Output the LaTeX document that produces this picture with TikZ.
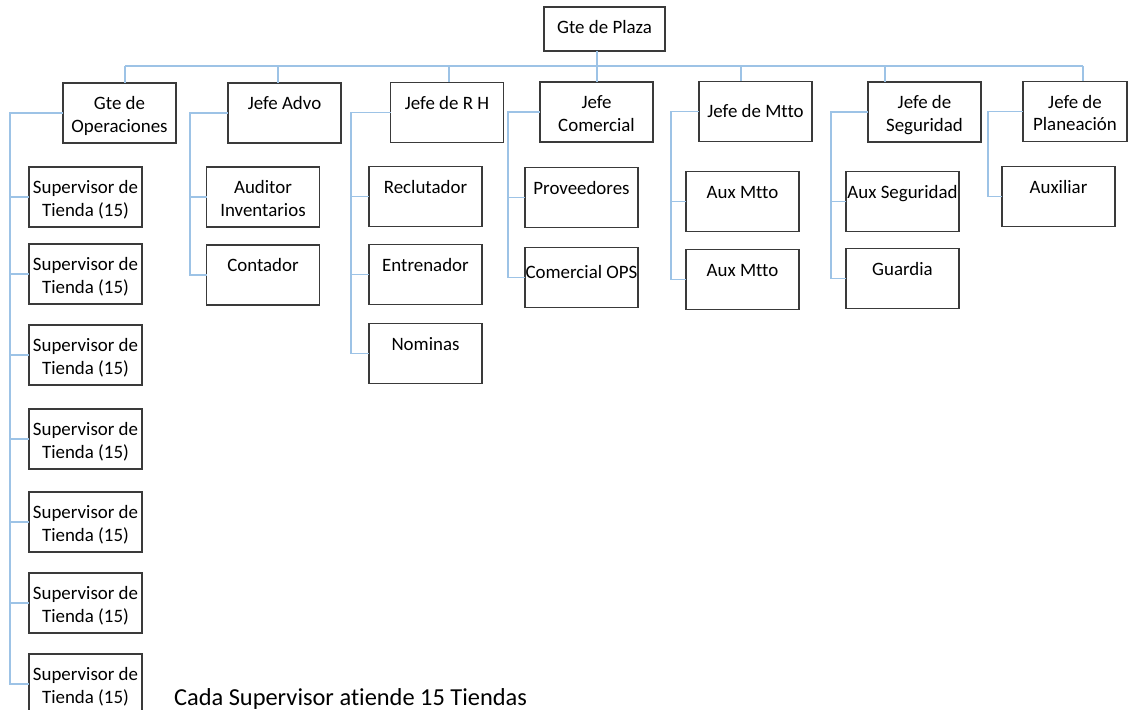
\documentclass[tikz,border=0pt]{standalone}
\usepackage{fontspec}
\setmainfont{Carlito}[Ligatures={NoCommon}, RawFeature={-liga;-clig;-calt}]
\usepackage{tikz}
\usetikzlibrary{positioning, calc}
\definecolor{colour_link}{HTML}{9DC3E6}
\definecolor{colour_border}{HTML}{3A3A3A}

\begin{document}
\begin{tikzpicture}[
    x=0.5pt, y=-0.5pt,
    box width/.store in=\boxwd, box width=56.5pt,
    box height/.store in=\boxht, box height=30pt,
    box strut/.store in=\boxst, box strut=13.3pt,
    box/.style={rectangle, draw=colour_border, line width=0.9pt,
                inner sep=0pt, outer sep=0pt,
                font=\fontsize{9.45pt}{11.4pt}\selectfont,
                execute at begin node={\begin{minipage}[c][\boxht][t]{\boxwd}\centering\rule{0pt}{\boxst}},
                execute at end node={\end{minipage}}},
    link/.style={draw=colour_link, line width=0.7pt},
    note/.style={font=\fontsize{12.2pt}{15pt}\selectfont}
]
\useasboundingbox (0,0) rectangle (1128,710);

% Top of the chart
\node[box, box width=60.5pt, box height=22pt] (plaza) at (604.5,29) {Gte de Plaza};

% Jefes
\node[box] (ops) at (119.5,113) {Gte de\\Operaciones};
\node[box] (advo) at (284.5,113) {Jefe Advo};
\node[box] (rh) at (447,112.5) {Jefe de R H};
\node[box] (comercial) at (596.5,112) {Jefe\\Comercial};
\node[box, box strut=17.8pt] (mtto) at (755.5,111.5) {Jefe de Mtto};
\node[box] (seg) at (924.5,112) {Jefe de\\Seguridad};
\node[box, box width=52pt] (plan) at (1075,111.5) {Jefe de\\Planeación};

% Supervisores
\node[box] (sup1) at (85.5,197) {Supervisor de\\Tienda (15)};
\node[box, below=8.5pt of sup1] (sup2) {Supervisor de\\Tienda (15)};
\node[box, below=10.5pt of sup2] (sup3) {Supervisor de\\Tienda (15)};
\node[box, below=12pt of sup3] (sup4) {Supervisor de\\Tienda (15)};
\node[box, below=11.5pt of sup4] (sup5) {Supervisor de\\Tienda (15)};
\node[box, below=10.5pt of sup5] (sup6) {Supervisor de\\Tienda (15)};
\node[box, below=10.5pt of sup6] (sup7) {Supervisor de\\Tienda (15)};

% Advo
\node[box] (auditor) at (263,197) {Auditor\\Inventarios};
\node[box, below=9pt of auditor] (contador) {Contador};

% R H
\node[box] (reclutador) at (425.5,196.5) {Reclutador};
\node[box, below=9pt of reclutador] (entrenador) {Entrenador};
\node[box, below=9.5pt of entrenador] (nominas) {Nominas};

% Comercial
\node[box] (proveedores) at (581.5,197.5) {Proveedores};
\node[box, box strut=15.3pt, below=10pt of proveedores] (comops) {Comercial OPS};

% Mtto
\node[box] (auxmtto1) at (742.5,201.5) {Aux Mtto};
\node[box, below=9pt of auxmtto1] (auxmtto2) {Aux Mtto};

% Seguridad
\node[box] (auxseg) at (902.5,201.5) {Aux Seguridad};
\node[box, below=8.5pt of auxseg] (guardia) {Guardia};

% Planeacion
\node[box] (auxiliar) at (1058.5,196.5) {Auxiliar};

\node[note, anchor=base west] (nota) at (167,705) {Cada Supervisor atiende 15 Tiendas};

% Bus and drops
\coordinate (d-ops) at (125,66);
\coordinate (d-advo) at (278,66);
\coordinate (d-rh) at (449,66);
\coordinate (d-com) at (597,66);
\coordinate (d-mtto) at (741,66);
\coordinate (d-seg) at (885,66);
\coordinate (d-plan) at (1083,66);
\draw[link] (d-ops) -- (d-plan);
\draw[link] (d-com |- plaza.south) -- (d-com |- comercial.north);
\draw[link] (d-ops) -- (d-ops |- ops.north);
\draw[link] (d-advo) -- (d-advo |- advo.north);
\draw[link] (d-rh) -- (d-rh |- rh.north);
\draw[link] (d-mtto) -- (d-mtto |- mtto.north);
\draw[link] (d-seg) -- (d-seg |- seg.north);
\draw[link] (d-plan) -- (d-plan |- plan.north);

% Side spines
\coordinate (s-ops) at (10,0);
\coordinate (s-advo) at (190,0);
\coordinate (s-rh) at (351,0);
\coordinate (s-com) at (508,0);
\coordinate (s-mtto) at (671,0);
\coordinate (s-seg) at (831,0);
\coordinate (s-plan) at (988,0);

\draw[link] (ops.west) -| (s-ops |- sup7.west) -- (sup7.west)
    (s-ops |- sup1.west) -- (sup1.west)
    (s-ops |- sup2.west) -- (sup2.west)
    (s-ops |- sup3.west) -- (sup3.west)
    (s-ops |- sup4.west) -- (sup4.west)
    (s-ops |- sup5.west) -- (sup5.west)
    (s-ops |- sup6.west) -- (sup6.west);
\draw[link] (advo.west) -| (s-advo |- contador.west) -- (contador.west)
    (s-advo |- auditor.west) -- (auditor.west);
\draw[link] (rh.west) -| (s-rh |- nominas.west) -- (nominas.west)
    (s-rh |- reclutador.west) -- (reclutador.west)
    (s-rh |- entrenador.west) -- (entrenador.west);
\draw[link] (comercial.west) -| (s-com |- comops.west) -- (comops.west)
    (s-com |- proveedores.west) -- (proveedores.west);
\draw[link] (mtto.west) -| (s-mtto |- auxmtto2.west) -- (auxmtto2.west)
    (s-mtto |- auxmtto1.west) -- (auxmtto1.west);
\draw[link] (seg.west) -| (s-seg |- guardia.west) -- (guardia.west)
    (s-seg |- auxseg.west) -- (auxseg.west);
\draw[link] (plan.west) -| (s-plan |- auxiliar.west) -- (auxiliar.west);

\end{tikzpicture}
\end{document}
